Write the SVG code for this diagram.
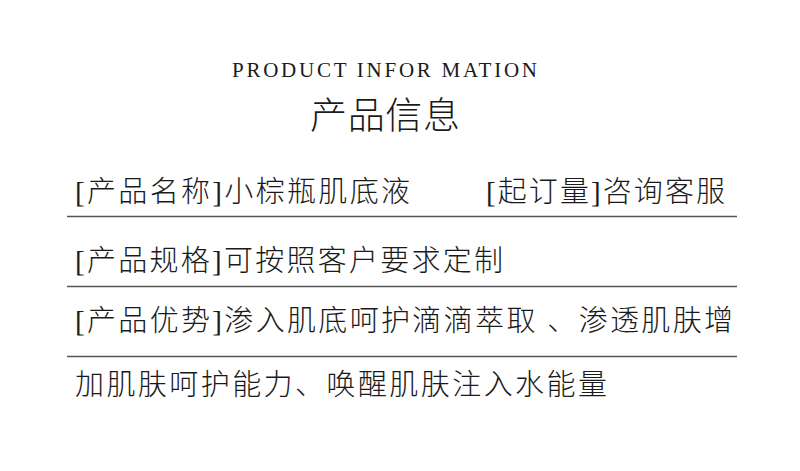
<svg xmlns="http://www.w3.org/2000/svg" width="800" height="471" viewBox="0 0 800 471">
<style>
.t{font-family:"Liberation Serif","Noto Sans CJK SC",serif;fill:#1a1a1a;}
.r{font-size:29px;font-weight:300;}
.rule{stroke:#555;stroke-width:1.5;}
</style>
<rect width="800" height="471" fill="#fff"/>
<g id="header">
<text class="t" x="232" y="77" font-size="21" textLength="305" lengthAdjust="spacing">PRODUCT INFOR MATION</text>
<text class="t" x="310" y="129" font-size="37" font-weight="300" textLength="150" lengthAdjust="spacing">产品信息</text>
</g>
<g id="row1">
<text class="t r" x="75" y="202" textLength="335" lengthAdjust="spacing">[产品名称]小棕瓶肌底液</text>
<text class="t r" x="486" y="202" textLength="239" lengthAdjust="spacing">[起订量]咨询客服</text>
</g>
<g id="row2">
<text class="t r" x="75" y="271" textLength="428" lengthAdjust="spacing">[产品规格]可按照客户要求定制</text>
</g>
<g id="row3">
<text class="t r" x="75" y="331" textLength="658" lengthAdjust="spacing">[产品优势]渗入肌底呵护滴滴萃取 、渗透肌肤增</text>
</g>
<g id="row4">
<text class="t r" x="75" y="395" textLength="532" lengthAdjust="spacing">加肌肤呵护能力、唤醒肌肤注入水能量</text>
</g>
<g id="rules">
<line class="rule" x1="67" y1="216.5" x2="737" y2="216.5"/>
<line class="rule" x1="67" y1="286.5" x2="737" y2="286.5"/>
<line class="rule" x1="67" y1="356.5" x2="737" y2="356.5"/>
</g>
</svg>
